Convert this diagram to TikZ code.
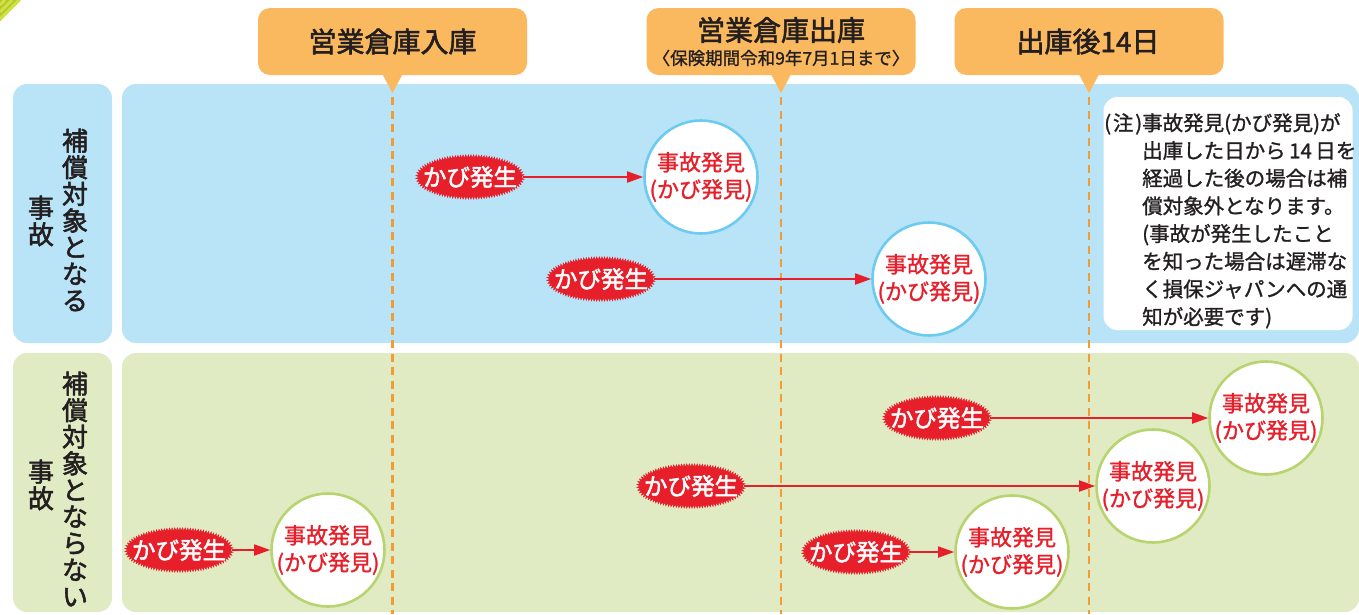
\documentclass[tikz,border=0pt]{standalone}
\usepackage{fontspec}
\setmainfont{Noto Sans CJK JP}
\newfontfamily\medfont[FakeBold=2]{Noto Sans CJK JP}
\newfontfamily\lightfont[FakeBold=1.2]{Noto Sans CJK JP}
\usetikzlibrary{shapes.geometric,decorations.pathmorphing,arrows.meta}
\definecolor{bluebg}{HTML}{B9E4F8}
\definecolor{greenbg}{HTML}{E1EBC3}
\definecolor{tabor}{HTML}{FBB95F}
\definecolor{dashor}{HTML}{F39C34}
\definecolor{mred}{HTML}{E61F2A}
\definecolor{cblue}{HTML}{6DCBF0}
\definecolor{cgreen}{HTML}{B7D46F}
\definecolor{txt}{HTML}{231F20}
\definecolor{tri1}{HTML}{A9C935}
\definecolor{tri2}{HTML}{D6E03C}
\newcommand{\noteind}{\hspace*{38pt}}
\begin{document}
\begin{tikzpicture}[x=1pt,y=-1pt,
  bgbox/.style={rounded corners=14pt},
  tabbox/.style={fill=tabor, rounded corners=12pt, minimum width=269pt, minimum height=67pt, inner sep=0pt},
  tabtext/.style={text=txt, inner sep=0pt, font=\medfont\fontsize{28}{30}\selectfont},
  tline/.style={dashor, line width=2.6pt, dash pattern=on 8pt off 5.5pt},
  mold/.style={ellipse, fill=mred, draw=mred, line width=0.6pt, minimum width=105pt, minimum height=41pt, inner sep=0pt, text=white, font=\medfont\fontsize{23.5}{24}\selectfont, decorate, decoration={zigzag, segment length=2.6pt, amplitude=1.6pt}},
  find/.style={circle, fill=white, line width=2.6pt, minimum size=113pt, inner sep=-8pt, text=mred, align=center, font=\lightfont\fontsize{22}{27}\selectfont},
  findb/.style={find, draw=cblue},
  findg/.style={find, draw=cgreen},
  arr/.style={mred, line width=1.8pt, -{Triangle[length=16pt,width=11pt]}},
  vlab/.style={align=center, text=txt, inner sep=0pt, font=\medfont\fontsize{26}{26.6}\selectfont},
]
\useasboundingbox (0,0) rectangle (1359,614);
\fill[white] (0,0) rectangle (1359,614);
% corner triangle
\begin{scope}
\clip (0,0) -- (21,0) -- (0,21) -- cycle;
\fill[tri1] (0,0) rectangle (21,21);
\draw[tri2, line width=3pt] (0,5) -- (5,0) (0,12) -- (12,0) (0,19) -- (19,0);
\end{scope}
% backgrounds
\fill[bluebg, bgbox] (13,84) rectangle (112,343);
\fill[bluebg, bgbox] (122,84) rectangle (1359,343);
\fill[greenbg, bgbox] (13,353) rectangle (112,612);
\fill[greenbg, bgbox] (122,353) rectangle (1359,612);
% tabs
\node[tabbox] (t1) at (392.5,41.5) {};
\node[tabbox] (t2) at (781,41.5) {};
\node[tabbox] (t3) at (1089,41.5) {};
\node[tabtext] (t1a) at (392.5,41.5) {営業倉庫入庫};
\node[tabtext] (t2a) at (781,30) {営業倉庫出庫};
\node[tabtext, font=\lightfont\fontsize{17.5}{20}\selectfont] (t2b) at (781,58) {〈保険期間令和9年7月1日まで〉};
\node[tabtext] (t3a) at (1088,41.5) {出庫後14日};
\coordinate (bot) at (0,614);
\foreach \t in {t1,t2,t3}{
  \fill[tabor] ([xshift=-10pt,yshift=1pt]\t.south) -- ([xshift=10pt,yshift=1pt]\t.south) -- ([yshift=-18pt]\t.south) -- cycle;
  \draw[tline] ([yshift=-22pt]\t.south) -- (\t.south |- bot);
}
% row labels
\node[vlab] (l1a) at (75,220) {補\\償\\対\\象\\と\\な\\る};
\node[vlab] (l1b) at (41,221) {事\\故};
\node[vlab] (l2a) at (75,489) {補\\償\\対\\象\\と\\な\\ら\\な\\い};
\node[vlab] (l2b) at (41,485) {事\\故};
% note
\node[fill=white, rounded corners=14pt, minimum width=249pt, minimum height=233pt, inner sep=0pt] (note) at (1228,213.5) {};
\node[anchor=north west, align=left, inner sep=0pt, text=txt, font=\lightfont\fontsize{20.5}{27.7}\selectfont] (notetext) at (1104,113)
 {\makebox[38pt][s]{(\hfil 注\hfil)}事故発見(かび発見)が\\
  \noteind 出庫した日から\,14\,日を\\
  \noteind 経過した後の場合は補\\
  \noteind 償対象外となります。\\
  \noteind (事故が発生したこと\\
  \noteind を知った場合は遅滞な\\
  \noteind く損保ジャパンへの通\\
  \noteind 知が必要です)};
% events
\node[mold] (m1) at (470,177) {\makebox[0pt]{かび発生}};
\node[findb] (c1) at (701,177) {事故発見\\(かび発見)};
\node[mold] (m2) at (601,279) {\makebox[0pt]{かび発生}};
\node[findb] (c2) at (929,279) {事故発見\\(かび発見)};
\node[mold] (m3) at (937,418) {\makebox[0pt]{かび発生}};
\node[findg] (c3) at (1266,418) {事故発見\\(かび発見)};
\node[mold] (m4) at (691,486) {\makebox[0pt]{かび発生}};
\node[findg] (c4) at (1153,486) {事故発見\\(かび発見)};
\node[mold] (m5) at (179,550) {\makebox[0pt]{かび発生}};
\node[findg] (c5) at (328,550) {事故発見\\(かび発見)};
\node[mold] (m6) at (856,552) {\makebox[0pt]{かび発生}};
\node[findg] (c6) at (1012,552) {事故発見\\(かび発見)};
\foreach \a/\b in {m1/c1,m2/c2,m3/c3,m4/c4,m5/c5,m6/c6}
  \draw[arr] (\a) -- (\b);
\end{tikzpicture}
\end{document}
